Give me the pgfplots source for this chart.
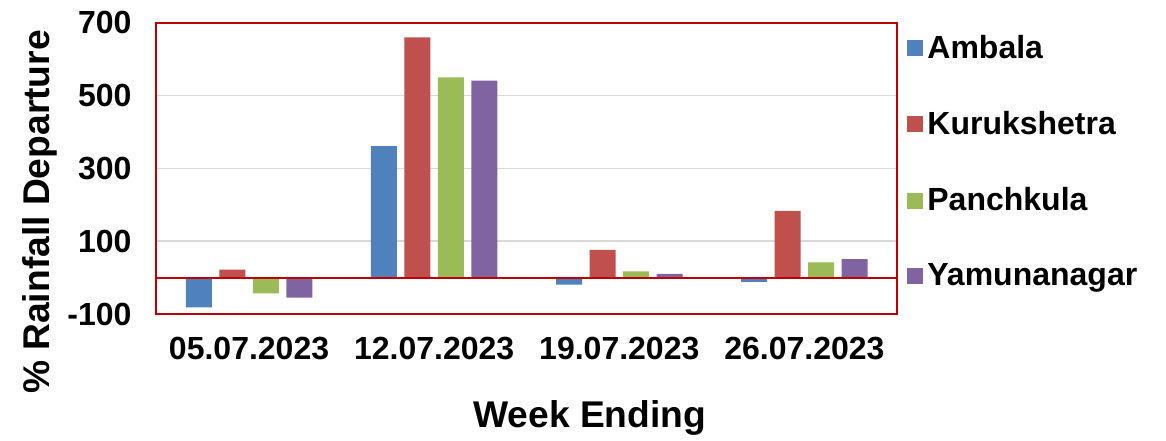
\documentclass[border=0pt]{standalone}
\usepackage{pgfplots}
\pgfplotsset{compat=1.18}
\usepackage{fontspec}
\setmainfont{Liberation Sans}
\definecolor{cAmb}{HTML}{4F81BD}
\definecolor{cKur}{HTML}{C0504D}
\definecolor{cPan}{HTML}{9BBB59}
\definecolor{cYam}{HTML}{8064A2}
\definecolor{dred}{HTML}{C00000}
\definecolor{gridg}{HTML}{D9D9D9}
\begin{document}
\begin{tikzpicture}
\begin{axis}[
  scale only axis,
  width=370.25pt, height=145.65pt,
  ybar=3.75pt, bar width=13pt,
  xmin=-0.5, xmax=3.5,
  ymin=-100, ymax=700,
  xtick={0,1,2,3},
  xticklabels={05.07.2023,12.07.2023,19.07.2023,26.07.2023},
  ytick={-100,100,300,500,700},
  major tick length=0pt,
  ymajorgrids,
  grid style={gridg, line width=0.75pt},
  axis line style={dred, line width=1pt},
  /pgf/number format/assume math mode=true,
  ticklabel style={font=\bfseries\fontsize{16}{19}\selectfont},
  xticklabel style={yshift=-8pt},
  yticklabel style={xshift=-9pt},
  xlabel={Week Ending},
  ylabel={\% Rainfall Departure},
  label style={font=\bfseries\fontsize{18.6}{22}\selectfont},
  xlabel style={at={(rel axis cs:0.585,-0.357)}, anchor=center},
  ylabel style={at={(rel axis cs:-0.157,0.35)}, anchor=center},
  legend style={at={(rel axis cs:1,1)}, anchor=north west, xshift=5pt, yshift=-2pt,
    draw=none, fill=none, font=\bfseries\fontsize{16}{19}\selectfont,
    row sep=21pt, cells={anchor=west, inner xsep=2pt}, inner xsep=0pt},
  legend image code/.code={\fill[#1, draw=none] (0pt,-4pt) rectangle (8pt,4pt);},
  every axis plot/.append style={draw=none},
]
\addplot[fill=cAmb] coordinates {(0,-82) (1,361) (2,-19) (3,-12)};
\addplot[fill=cKur] coordinates {(0,22) (1,660) (2,76) (3,183)};
\addplot[fill=cPan] coordinates {(0,-43) (1,550) (2,17) (3,42)};
\addplot[fill=cYam] coordinates {(0,-55) (1,541) (2,10) (3,51)};
\legend{Ambala,Kurukshetra,Panchkula,Yamunanagar}
\draw[dred, line width=1pt] (axis cs:-0.5,0) -- (axis cs:3.5,0);
\coordinate (sw) at (rel axis cs:0,0);
\end{axis}
\pgfresetboundingbox
\path (sw) ++(-78.25pt,-63pt) rectangle ++(583pt,220pt);
\end{tikzpicture}
\end{document}
